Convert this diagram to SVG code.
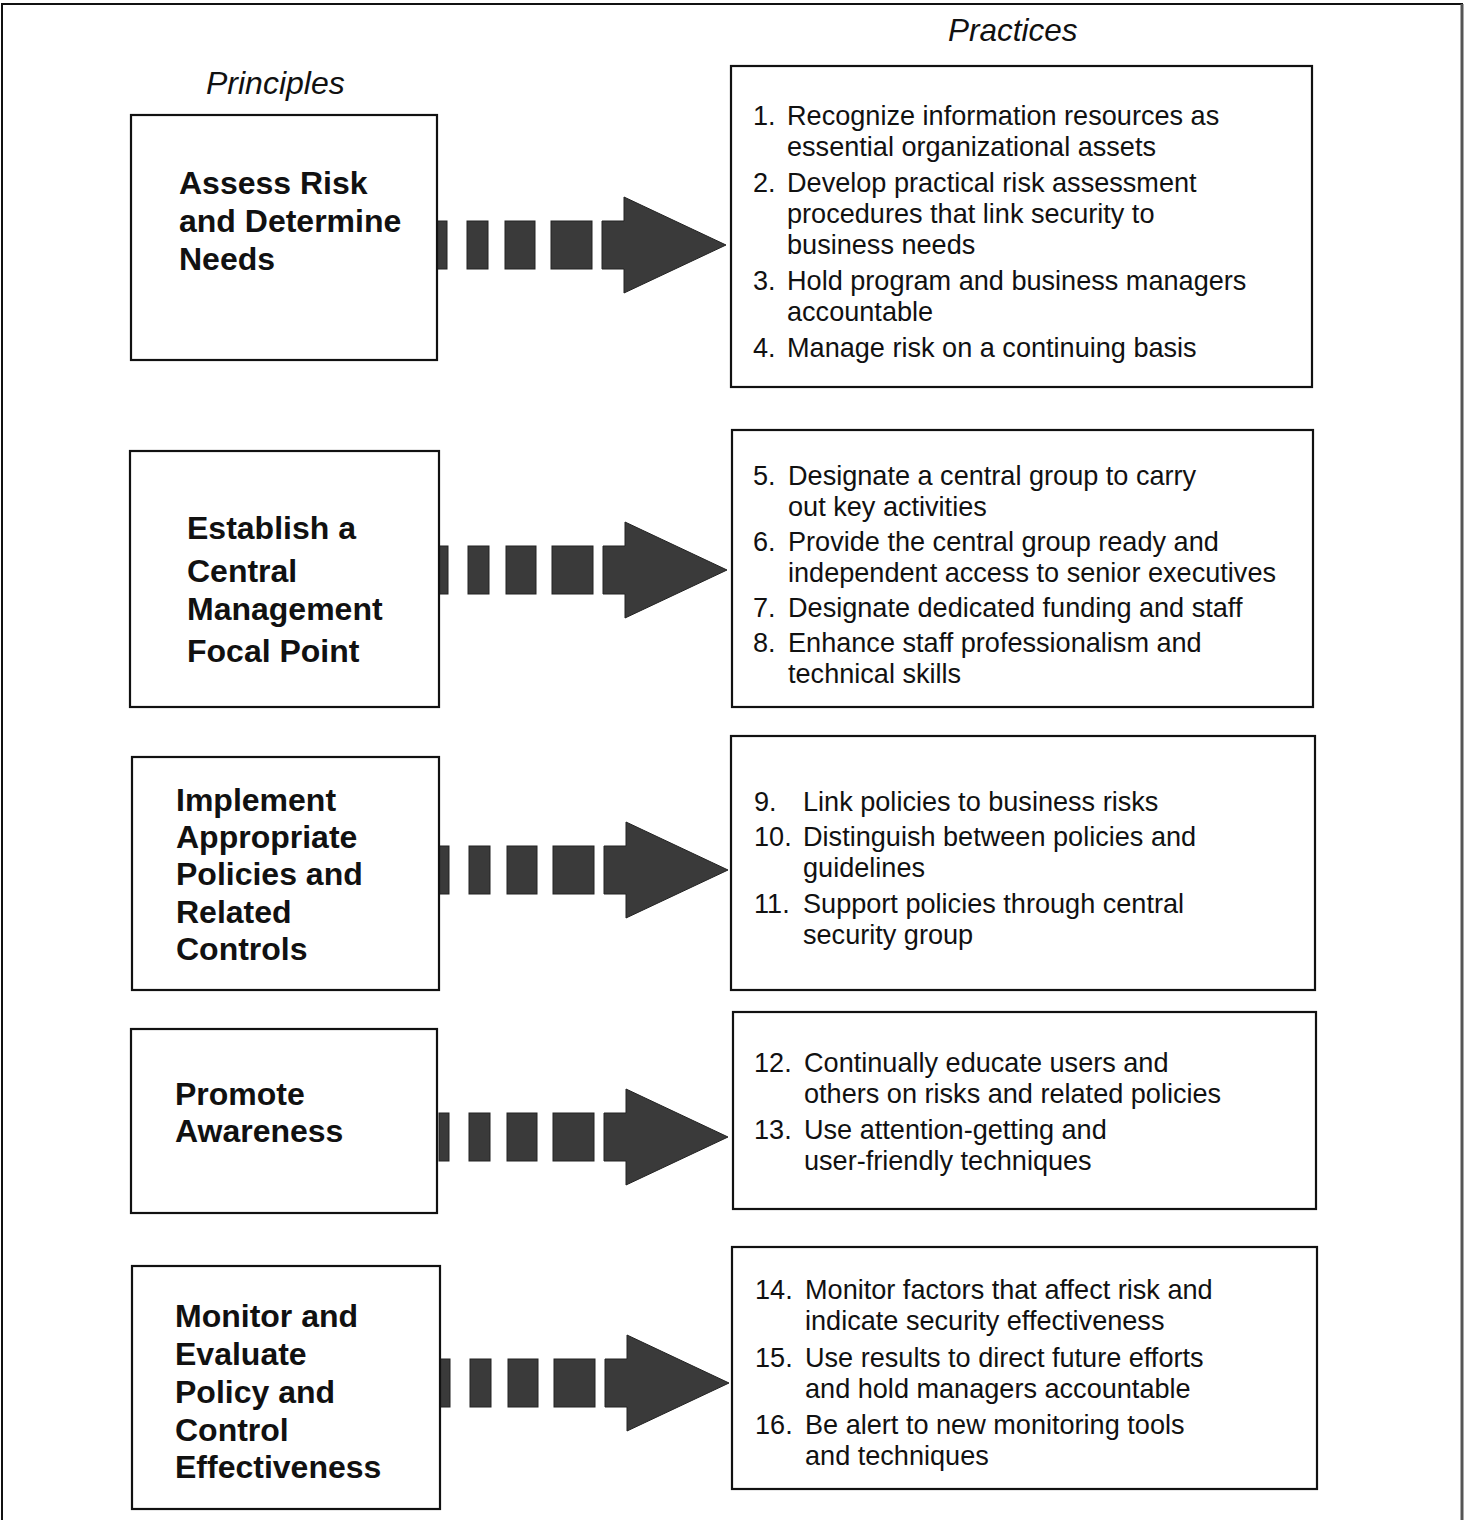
<svg xmlns="http://www.w3.org/2000/svg" width="1468" height="1520" viewBox="0 0 1468 1520">
<style>
.frame{fill:none;stroke:#111;stroke-width:2}
.box{fill:#fff;stroke:#111;stroke-width:2.2}
.hd{font-family:"Liberation Sans",Arial,sans-serif;font-style:italic;font-size:31.5px;fill:#111}
.pr{font-family:"Liberation Sans",Arial,sans-serif;font-weight:bold;font-size:32px;fill:#111}
.it{font-family:"Liberation Sans",Arial,sans-serif;font-size:27.1px;fill:#111}
.arr{fill:#3a3a3a;stroke:#222;stroke-width:1}
</style>
<defs>
<g id="arrow">
<rect x="0" y="-24" width="10" height="48"/>
<rect x="30" y="-24" width="21" height="48"/>
<rect x="68" y="-24" width="30" height="48"/>
<rect x="114" y="-24" width="41" height="48"/>
<polygon points="165,-24 187,-24 187,-48 289,0 187,48 187,24 165,24"/>
</g>
</defs>
<rect width="1468" height="1520" fill="#fff"/>
<path class="frame" d="M2,1520 V4 H1462 V1520"/>
<line x1="1462" y1="4" x2="1462" y2="1520" stroke="#555" stroke-width="3"/>
<text class="hd" x="948" y="41">Practices</text>
<text class="hd" x="206" y="94" style="font-size:32px">Principles</text>

<g id="connectors">
<use href="#arrow" class="arr" x="437" y="245"/>
<use href="#arrow" class="arr" x="438" y="570"/>
<use href="#arrow" class="arr" x="439" y="870"/>
<use href="#arrow" class="arr" x="439" y="1137"/>
<use href="#arrow" class="arr" x="440" y="1383"/>
</g>

<g id="p1"><rect class="box" x="131" y="115" width="306" height="245"/>
<text class="pr" x="179" y="194">Assess Risk</text>
<text class="pr" x="179" y="232">and Determine</text>
<text class="pr" x="179" y="270">Needs</text></g>

<g id="p2"><rect class="box" x="130" y="451" width="309" height="256"/>
<text class="pr" x="187" y="539">Establish a</text>
<text class="pr" x="187" y="582">Central</text>
<text class="pr" x="187" y="620">Management</text>
<text class="pr" x="187" y="662">Focal Point</text></g>

<g id="p3"><rect class="box" x="132" y="757" width="307" height="233"/>
<text class="pr" x="176" y="811">Implement</text>
<text class="pr" x="176" y="848">Appropriate</text>
<text class="pr" x="176" y="885">Policies and</text>
<text class="pr" x="176" y="923">Related</text>
<text class="pr" x="176" y="960">Controls</text></g>

<g id="p4"><rect class="box" x="131" y="1029" width="306" height="184"/>
<text class="pr" x="175" y="1105">Promote</text>
<text class="pr" x="175" y="1142">Awareness</text></g>

<g id="p5"><rect class="box" x="132" y="1266" width="308" height="243"/>
<text class="pr" x="175" y="1327">Monitor and</text>
<text class="pr" x="175" y="1365">Evaluate</text>
<text class="pr" x="175" y="1403">Policy and</text>
<text class="pr" x="175" y="1441">Control</text>
<text class="pr" x="175" y="1478">Effectiveness</text></g>

<g id="r1"><rect class="box" x="731" y="66" width="581" height="321"/>
<text class="it" x="753" y="125">1.</text><text class="it" x="787" y="125">Recognize information resources as</text>
<text class="it" x="787" y="156">essential organizational assets</text>
<text class="it" x="753" y="192">2.</text><text class="it" x="787" y="192">Develop practical risk assessment</text>
<text class="it" x="787" y="223">procedures that link security to</text>
<text class="it" x="787" y="254">business needs</text>
<text class="it" x="753" y="290">3.</text><text class="it" x="787" y="290">Hold program and business managers</text>
<text class="it" x="787" y="321">accountable</text>
<text class="it" x="753" y="357">4.</text><text class="it" x="787" y="357">Manage risk on a continuing basis</text></g>

<g id="r2"><rect class="box" x="732" y="430" width="581" height="277"/>
<text class="it" x="753" y="485">5.</text><text class="it" x="788" y="485">Designate a central group to carry</text>
<text class="it" x="788" y="516">out key activities</text>
<text class="it" x="753" y="551">6.</text><text class="it" x="788" y="551">Provide the central group ready and</text>
<text class="it" x="788" y="582">independent access to senior executives</text>
<text class="it" x="753" y="617">7.</text><text class="it" x="788" y="617">Designate dedicated funding and staff</text>
<text class="it" x="753" y="652">8.</text><text class="it" x="788" y="652">Enhance staff professionalism and</text>
<text class="it" x="788" y="683">technical skills</text></g>

<g id="r3"><rect class="box" x="731" y="736" width="584" height="254"/>
<text class="it" x="754" y="811">9.</text><text class="it" x="803" y="811">Link policies to business risks</text>
<text class="it" x="754" y="846">10.</text><text class="it" x="803" y="846">Distinguish between policies and</text>
<text class="it" x="803" y="877">guidelines</text>
<text class="it" x="754" y="913">11.</text><text class="it" x="803" y="913">Support policies through central</text>
<text class="it" x="803" y="944">security group</text></g>

<g id="r4"><rect class="box" x="733" y="1012" width="583" height="197"/>
<text class="it" x="754" y="1072">12.</text><text class="it" x="804" y="1072">Continually educate users and</text>
<text class="it" x="804" y="1103">others on risks and related policies</text>
<text class="it" x="754" y="1139">13.</text><text class="it" x="804" y="1139">Use attention-getting and</text>
<text class="it" x="804" y="1170">user-friendly techniques</text></g>

<g id="r5"><rect class="box" x="732" y="1247" width="585" height="242"/>
<text class="it" x="755" y="1299">14.</text><text class="it" x="805" y="1299">Monitor factors that affect risk and</text>
<text class="it" x="805" y="1330">indicate security effectiveness</text>
<text class="it" x="755" y="1367">15.</text><text class="it" x="805" y="1367">Use results to direct future efforts</text>
<text class="it" x="805" y="1398">and hold managers accountable</text>
<text class="it" x="755" y="1434">16.</text><text class="it" x="805" y="1434">Be alert to new monitoring tools</text>
<text class="it" x="805" y="1465">and techniques</text></g>
</svg>
